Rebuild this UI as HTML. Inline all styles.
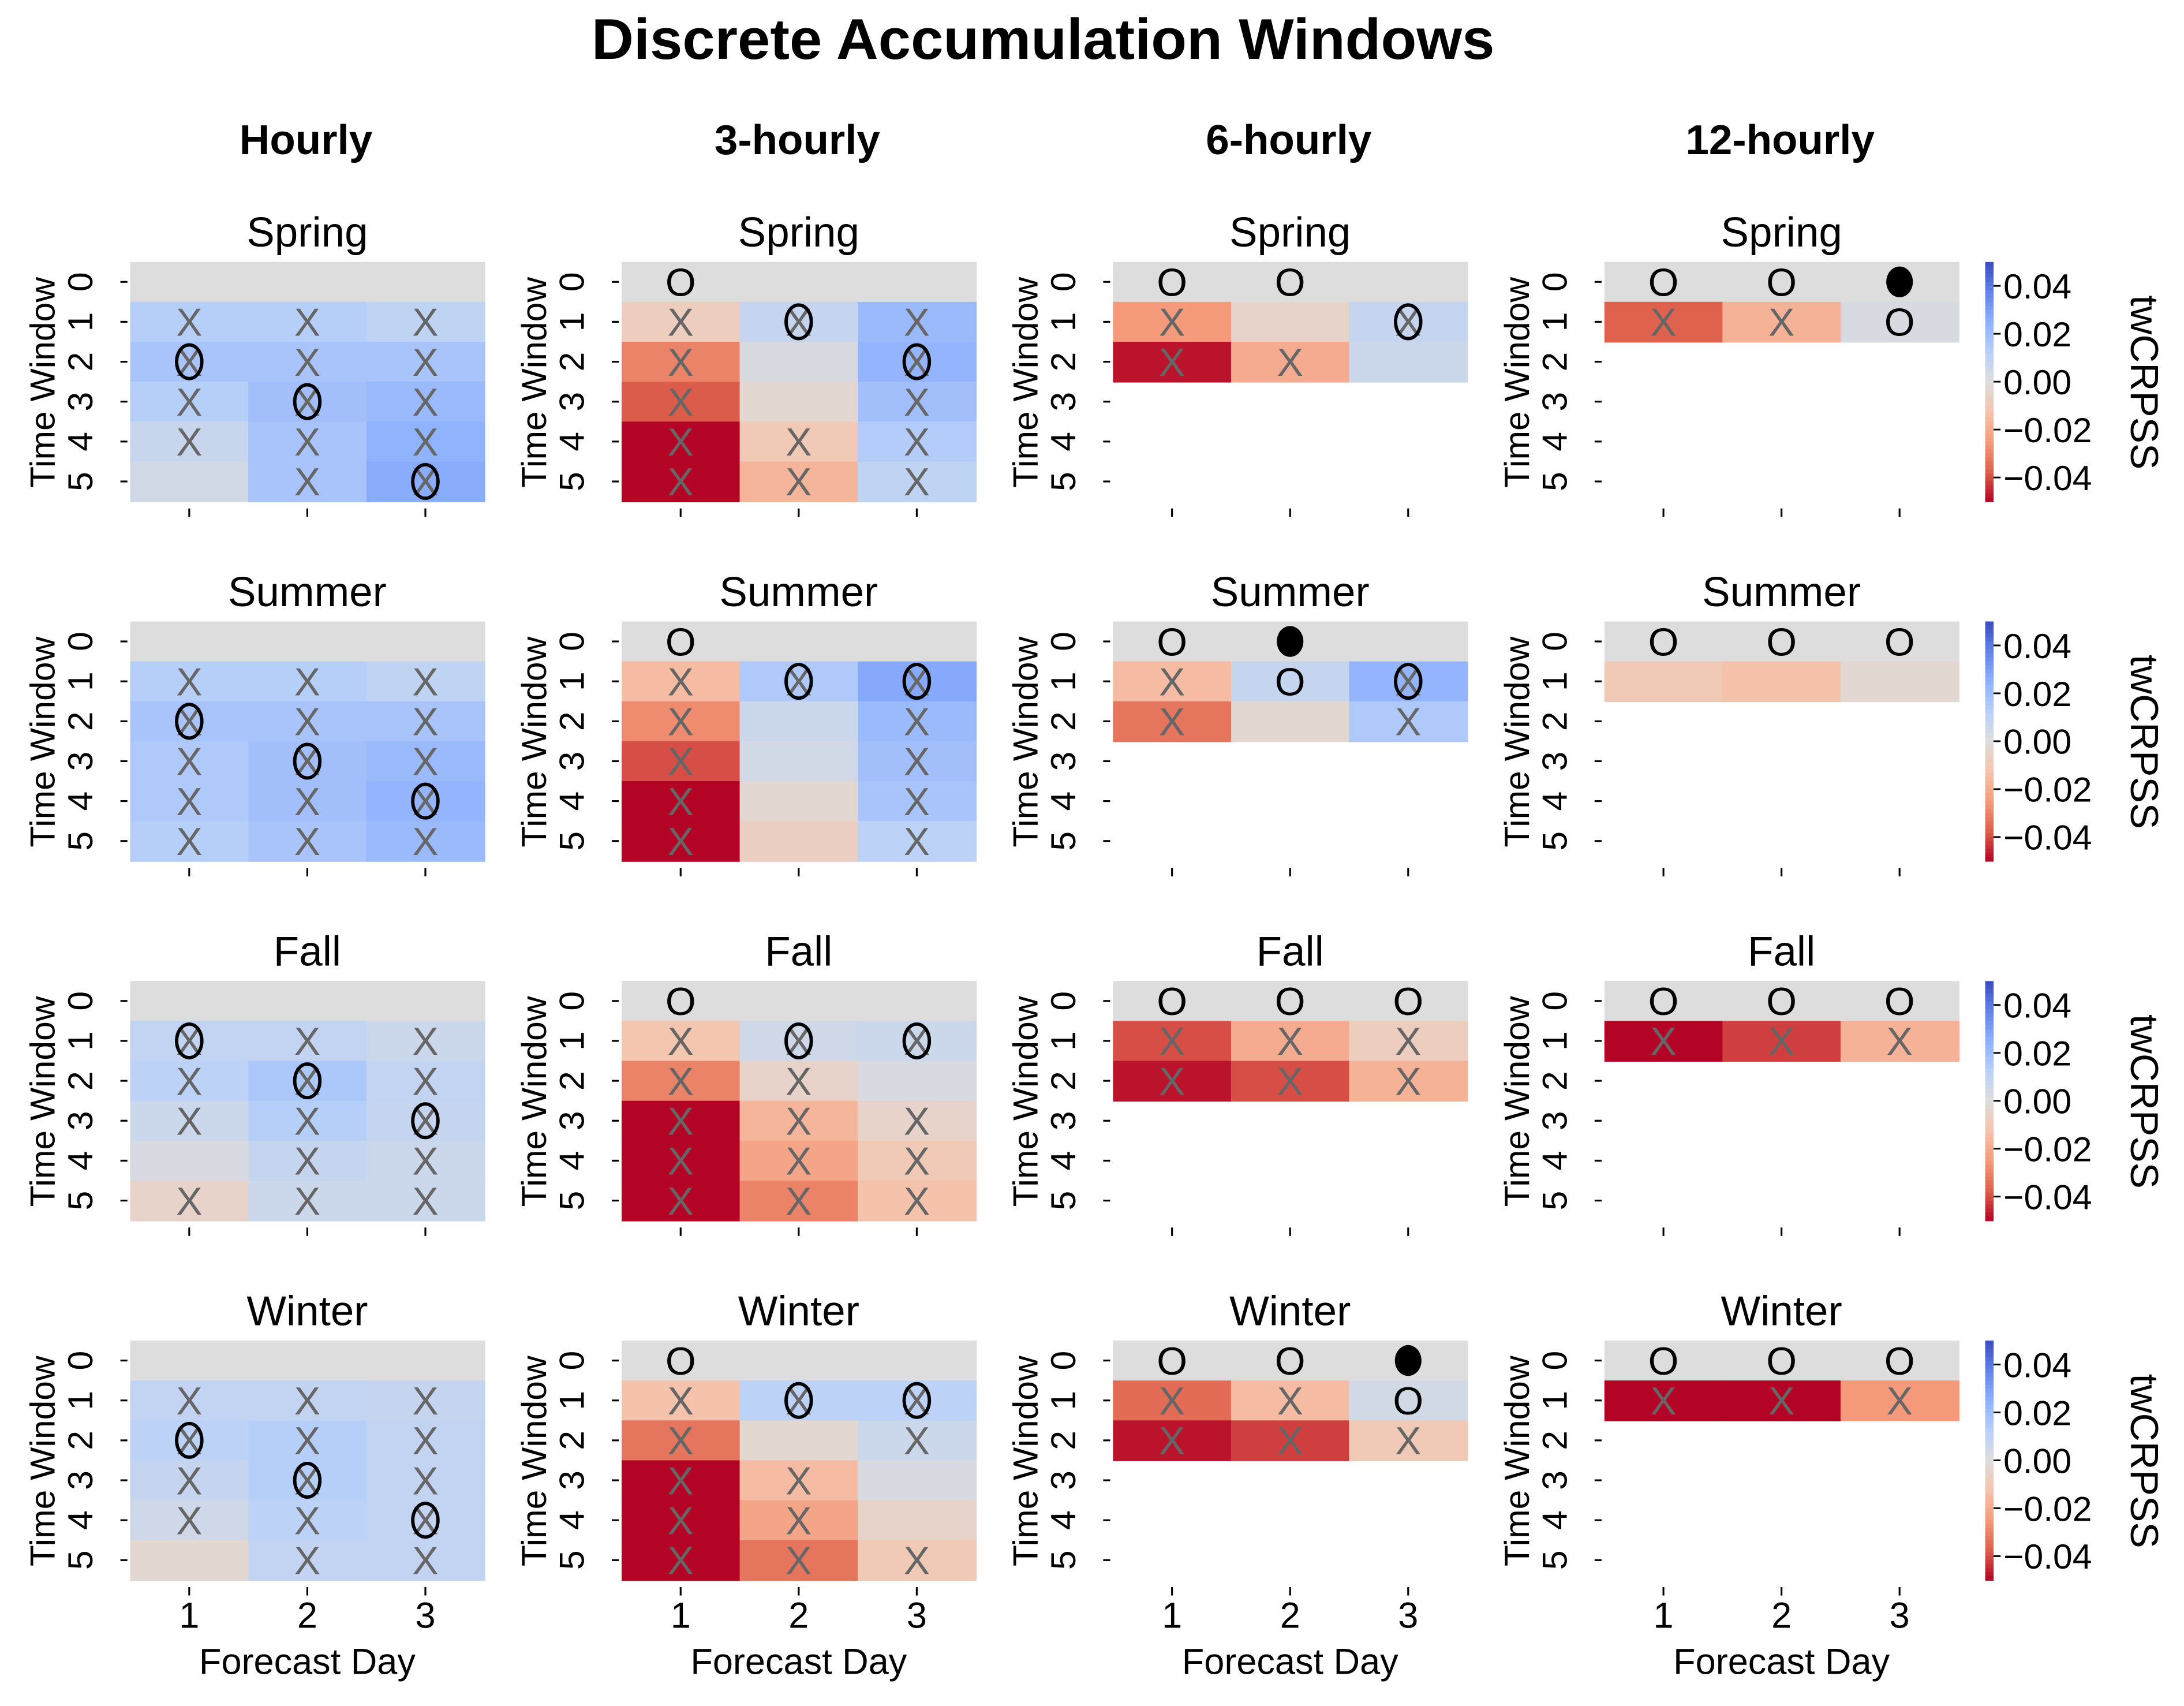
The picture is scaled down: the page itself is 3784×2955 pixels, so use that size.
<!DOCTYPE html>
<html><head><meta charset="utf-8"><style>
html,body{margin:0;padding:0;background:#fff;}
svg{display:block;font-family:"Liberation Sans",Arial,sans-serif;}
</style></head><body>
<svg id="chart" width="3784" height="2955" viewBox="0 0 1560 1218" preserveAspectRatio="none" xmlns="http://www.w3.org/2000/svg">
<text x="745" y="42" text-anchor="middle" font-size="41" font-weight="bold" textLength="645" lengthAdjust="spacingAndGlyphs">Discrete Accumulation Windows</text>
</svg>
<script>
const columns = ["Hourly","3-hourly","6-hourly","12-hourly"];
const seasons = ["Spring","Summer","Fall","Winter"];
const days = ["1","2","3"];
const windows = ["0","1","2","3","4","5"];
const cbTicks = [0.04,0.02,0,-0.02,-0.04];
const cbLabels = ["0.04","0.02","0.00","\u22120.02","\u22120.04"];
const hourlySpring = [[0,0,0],[0.013,0.013,0.01],[0.017,0.017,0.017],[0.013,0.019,0.021],[0.007,0.017,0.024],[0.004,0.017,0.026]];
const hourlySummer = [[0,0,0],[0.013,0.013,0.01],[0.017,0.017,0.017],[0.015,0.019,0.021],[0.015,0.019,0.023],[0.013,0.017,0.021]];
const hourlyFall = [[0,0,0],[0.009,0.009,0.006],[0.011,0.016,0.009],[0.006,0.013,0.008],[0.002,0.008,0.006],[-0.005,0.006,0.006]];
const hourlyWinter = [[0,0,0],[0.009,0.009,0.008],[0.011,0.013,0.009],[0.008,0.013,0.009],[0.005,0.011,0.009],[-0.003,0.009,0.009]];
const h3Spring = [[0,0,0],[-0.008,0.008,0.021],[-0.03,0.002,0.023],[-0.038,-0.003,0.019],[-0.05,-0.01,0.014],[-0.05,-0.017,0.01]];
const h3Summer = [[0,0,0],[-0.015,0.015,0.027],[-0.028,0.006,0.021],[-0.04,0.004,0.019],[-0.05,-0.003,0.017],[-0.05,-0.007,0.011]];
const h3Fall = [[0,0,0],[-0.012,0.005,0.006],[-0.03,-0.005,0.002],[-0.05,-0.017,-0.005],[-0.05,-0.022,-0.01],[-0.05,-0.03,-0.013]];
const h3Winter = [[0,0,0],[-0.013,0.011,0.011],[-0.033,-0.003,0.006],[-0.05,-0.015,0.002],[-0.05,-0.022,-0.005],[-0.05,-0.033,-0.01]];
const h6Spring = [[0,0,0],[-0.025,-0.005,0.008],[-0.048,-0.02,0.006]];
const h6Summer = [[0,0,0],[-0.015,0.008,0.023],[-0.033,-0.003,0.015]];
const h6Fall = [[0,0,0],[-0.04,-0.02,-0.008],[-0.048,-0.04,-0.018]];
const h6Winter = [[0,0,0],[-0.035,-0.015,0.004],[-0.048,-0.042,-0.01]];
const h12Spring = [[0,0,0],[-0.037,-0.018,0.002]];
const h12Summer = [[0,0,0],[-0.01,-0.013,-0.003]];
const h12Fall = [[0,0,0],[-0.05,-0.042,-0.018]];
const h12Winter = [[0,0,0],[-0.05,-0.05,-0.025]];
const mHourlySpring = [["","",""],["X","X","X"],["XO","X","X"],["X","XO","X"],["X","X","X"],["","X","XO"]];
const mHourlySummer = [["","",""],["X","X","X"],["XO","X","X"],["X","XO","X"],["X","X","XO"],["X","X","X"]];
const mHourlyFall = [["","",""],["XO","X","X"],["X","XO","X"],["X","X","XO"],["","X","X"],["X","X","X"]];
const mHourlyWinter = [["","",""],["X","X","X"],["XO","X","X"],["X","XO","X"],["X","X","XO"],["","X","X"]];
const mH3Spring = [["O","",""],["X","XO","X"],["X","","XO"],["X","","X"],["X","X","X"],["X","X","X"]];
const mH3Summer = [["O","",""],["X","XO","XO"],["X","","X"],["X","","X"],["X","","X"],["X","","X"]];
const mH3Fall = [["O","",""],["X","XO","XO"],["X","X",""],["X","X","X"],["X","X","X"],["X","X","X"]];
const mH3Winter = [["O","",""],["X","XO","XO"],["X","","X"],["X","X",""],["X","X",""],["X","X","X"]];
const mH6Spring = [["O","O",""],["X","","XO"],["X","X",""]];
const mH6Summer = [["O","D",""],["X","O","XO"],["X","","X"]];
const mH6Fall = [["O","O","O"],["X","X","X"],["X","X","X"]];
const mH6Winter = [["O","O","D"],["X","X","O"],["X","X","X"]];
const mH12Spring = [["O","O","D"],["X","X","O"]];
const mH12Summer = [["O","O","O"],["","",""]];
const mH12Fall = [["O","O","O"],["X","X","X"]];
const mH12Winter = [["O","O","O"],["X","X","X"]];

const values = [[hourlySpring,h3Spring,h6Spring,h12Spring],[hourlySummer,h3Summer,h6Summer,h12Summer],[hourlyFall,h3Fall,h6Fall,h12Fall],[hourlyWinter,h3Winter,h6Winter,h12Winter]];
const markers = [[mHourlySpring,mH3Spring,mH6Spring,mH12Spring],[mHourlySummer,mH3Summer,mH6Summer,mH12Summer],[mHourlyFall,mH3Fall,mH6Fall,mH12Fall],[mHourlyWinter,mH3Winter,mH6Winter,mH12Winter]];

const VMIN=-0.05, VMAX=0.05;
const cw=[[59,76,192],[98,130,234],[141,176,254],[184,208,249],[221,221,221],[245,196,173],[244,154,123],[222,96,77],[180,4,38]];
function color(v){
  let t=(VMAX-v)/(VMAX-VMIN); t=Math.max(0,Math.min(1,t));
  const p=t*8, i=Math.min(7,Math.floor(p)), f=p-i;
  const c=cw[i].map((a,k)=>Math.round(a+(cw[i+1][k]-a)*f));
  return `rgb(${c[0]},${c[1]},${c[2]})`;
}
const svg=document.getElementById('chart');
const NS="http://www.w3.org/2000/svg";
function mk(tag,attrs,parent){const e=document.createElementNS(NS,tag);for(const k in attrs)e.setAttribute(k,attrs[k]);(parent||svg).appendChild(e);return e;}
const X0=93, PW=253, PITCH_X=351, Y0=187, PITCH_Y=256.7, CH=171/6, CWD=PW/3;
const xPos=(col,d)=>X0+col*PITCH_X+d*CWD;
const yPos=(row,w)=>Y0+row*PITCH_Y+w*CH;
const cbY=(row,v)=>Y0+row*PITCH_Y+(VMAX-v)/(VMAX-VMIN)*171;

columns.forEach((c,ci)=>{
  const t=mk('text',{x:X0+ci*PITCH_X+PW/2-1,y:110,'text-anchor':'middle','font-size':30,'font-weight':'bold'});
  t.textContent=c;
  
  
});

seasons.forEach((s,si)=>{
  columns.forEach((c,ci)=>{
    const g=mk('g',{});
    
    
    const left=X0+ci*PITCH_X, top=Y0+si*PITCH_Y;
    const st=mk('text',{x:left+PW/2,y:top-11,'text-anchor':'middle','font-size':30},g);
    st.textContent=s;
    
    
    const vals=values[si][ci], mks=markers[si][ci];
    vals.forEach((row,w)=>row.forEach((v,d)=>{
      if(v===null)return;
      const r=mk('rect',{x:xPos(ci,d),y:yPos(si,w),width:CWD+0.6,height:CH+0.6,fill:w===0?'#dcdddc':color(v)},g);
      
      
    }));
    mks.forEach((row,w)=>row.forEach((m,d)=>{
      const cx=xPos(ci,d)+CWD/2, cy=yPos(si,w)+CH/2;
      if(m==='X'||m==='XO'){
        const t=mk('text',{x:cx,y:cy+10,'text-anchor':'middle','font-size':28,fill:'#666'},g);
        t.textContent='X';
        
        
      }
      if(m==='XO'){
        const e=mk('ellipse',{cx:cx,cy:cy,rx:9,ry:12,fill:'none',stroke:'#000','stroke-width':2.4},g);
        
        
      }
      if(m==='O'){
        const t=mk('text',{x:cx,y:cy+10,'text-anchor':'middle','font-size':28,fill:'#000'},g);
        t.textContent='O';
        
        
      }
      if(m==='D'){
        const e=mk('ellipse',{cx:cx,cy:cy,rx:9.5,ry:11,fill:'#000'},g);
        
        
      }
    }));
    windows.forEach((wl,w)=>{
      const y=yPos(si,w)+CH/2;
      mk('line',{x1:left-7,x2:left-2,y1:y,y2:y,stroke:'#000','stroke-width':1.3},g);
      const t=mk('text',{x:0,y:0,'text-anchor':'middle','font-size':25,transform:`translate(${left-36},${y}) rotate(-90) translate(0,9)`},g);
      t.textContent=wl;
      
      
    });
    const yl=mk('text',{x:0,y:0,'text-anchor':'middle','font-size':25,transform:`translate(${left-63},${top+86}) rotate(-90) translate(0,9)`},g);
    yl.textContent='Time Window';
    
    
    days.forEach((dl,d)=>{
      const x=xPos(ci,d)+CWD/2;
      mk('line',{x1:x,x2:x,y1:top+176,y2:top+182,stroke:'#000','stroke-width':1.3},g);
      if(si===3){
        const t=mk('text',{x:x,y:top+205,'text-anchor':'middle','font-size':26},g);
        t.textContent=dl;
        
        
      }
    });
    if(si===3){
      const xl=mk('text',{x:left+PW/2,y:top+238,'text-anchor':'middle','font-size':26},g);
      xl.textContent='Forecast Day';
      
      
    }
  });
  const g=mk('g',{});
  
  
  const top=Y0+si*PITCH_Y;
  for(let k=0;k<60;k++){
    const v=VMAX-(k+0.5)/60*(VMAX-VMIN);
    mk('rect',{x:1418,y:top+k*171/60,width:6,height:171/60+0.5,fill:color(v)},g);
  }
  cbTicks.forEach((v,k)=>{
    const y=cbY(si,v);
    mk('line',{x1:1424,x2:1429,y1:y,y2:y,stroke:'#000','stroke-width':1.2},g);
    const t=mk('text',{x:1431,y:y+9,'font-size':25},g);
    t.textContent=cbLabels[k];
    
    
  });
  const cl=mk('text',{x:0,y:0,'text-anchor':'middle','font-size':28,transform:`translate(1532,${top+86}) rotate(90) translate(0,10)`},g);
  cl.textContent='twCRPSS';
  
  
});
</script>
</body></html>
